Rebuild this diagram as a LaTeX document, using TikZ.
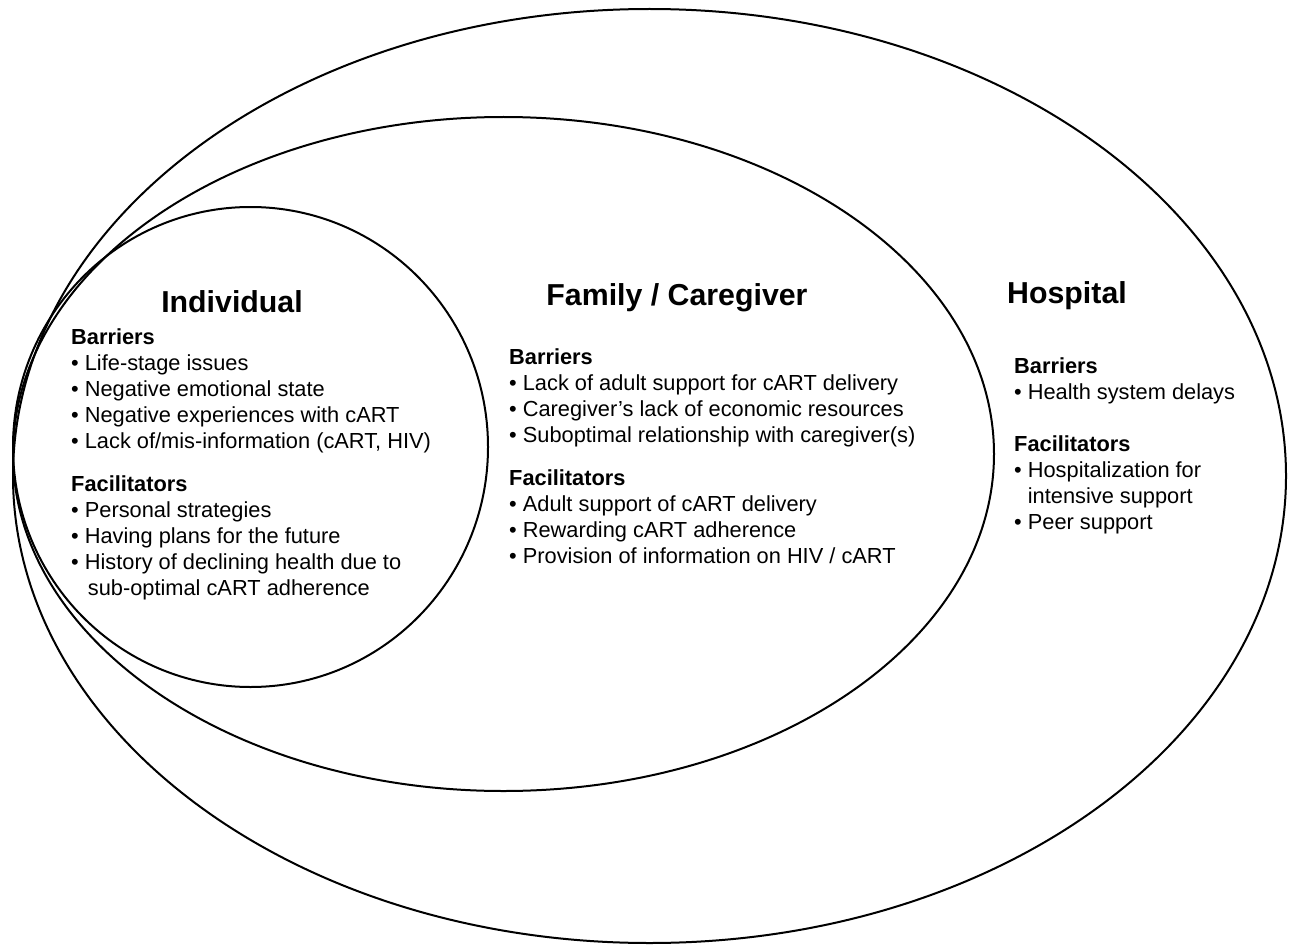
\documentclass[tikz,border=0pt]{standalone}
\usepackage{fontspec}
\setmainfont{Liberation Sans}
\begin{document}
\begin{tikzpicture}[x=1pt,y=1pt,
  ring/.style={draw=black,line width=2pt},
  title/.style={font=\fontsize{30.3}{35}\selectfont\bfseries,inner sep=0pt,anchor=base},
  head/.style={font=\fontsize{21.8}{26}\selectfont\bfseries,inner sep=0pt,anchor=base west},
  item/.style={font=\fontsize{21.8}{26}\selectfont,inner sep=0pt,anchor=base west}]
\useasboundingbox (0,0) rectangle (1291,-947);
\fill[white] (0,0) rectangle (1291,-947);
% ellipses
\draw[ring] (649.5,-476) ellipse [x radius=636.5pt, y radius=467pt];
\draw[ring] (503.5,-454) ellipse [x radius=490.5pt, y radius=337pt];
\draw[ring] (250.5,-447) ellipse [x radius=237.5pt, y radius=240pt];
% Individual
\node[title] (ti) at (232,-312) {Individual};
\node[head] (ib) at (71,-344) {Barriers};
\node[item] (ib1) at (71,-370) {•\ Life-stage issues};
\node[item] (ib2) at (71,-396) {•\ Negative emotional state};
\node[item] (ib3) at (71,-422) {•\ Negative experiences with cART};
\node[item] (ib4) at (71,-448) {•\ Lack of/mis-information (cART, HIV)};
\node[head] (if) at (71,-491) {Facilitators};
\node[item] (if1) at (71,-517) {•\ Personal strategies};
\node[item] (if2) at (71,-543) {•\ Having plans for the future};
\node[item] (if3) at (71,-569) {•\ History of declining health due to};
\node[item] (if4) at (74,-595) {\phantom{•\ }sub-optimal cART adherence};
% Family
\node[title] (tf) at (677,-305) {Family / Caregiver};
\node[head] (fb) at (509,-364) {Barriers};
\node[item] (fb1) at (509,-390) {•\ Lack of adult support for cART delivery};
\node[item] (fb2) at (509,-416) {•\ Caregiver’s lack of economic resources};
\node[item] (fb3) at (509,-442) {•\ Suboptimal relationship with caregiver(s)};
\node[head] (ff) at (509,-485) {Facilitators};
\node[item] (ff1) at (509,-511) {•\ Adult support of cART delivery};
\node[item] (ff2) at (509,-537) {•\ Rewarding cART adherence};
\node[item] (ff3) at (509,-563) {•\ Provision of information on HIV / cART};
% Hospital
\node[title] (th) at (1067,-303) {Hospital};
\node[head] (hb) at (1014,-373) {Barriers};
\node[item] (hb1) at (1014,-399) {•\ Health system delays};
\node[head] (hf) at (1014,-451) {Facilitators};
\node[item] (hf1) at (1014,-477) {•\ Hospitalization for};
\node[item] (hf2) at (1014,-503) {\phantom{•}\ intensive support};
\node[item] (hf3) at (1014,-529) {•\ Peer support};
\end{tikzpicture}
\end{document}
